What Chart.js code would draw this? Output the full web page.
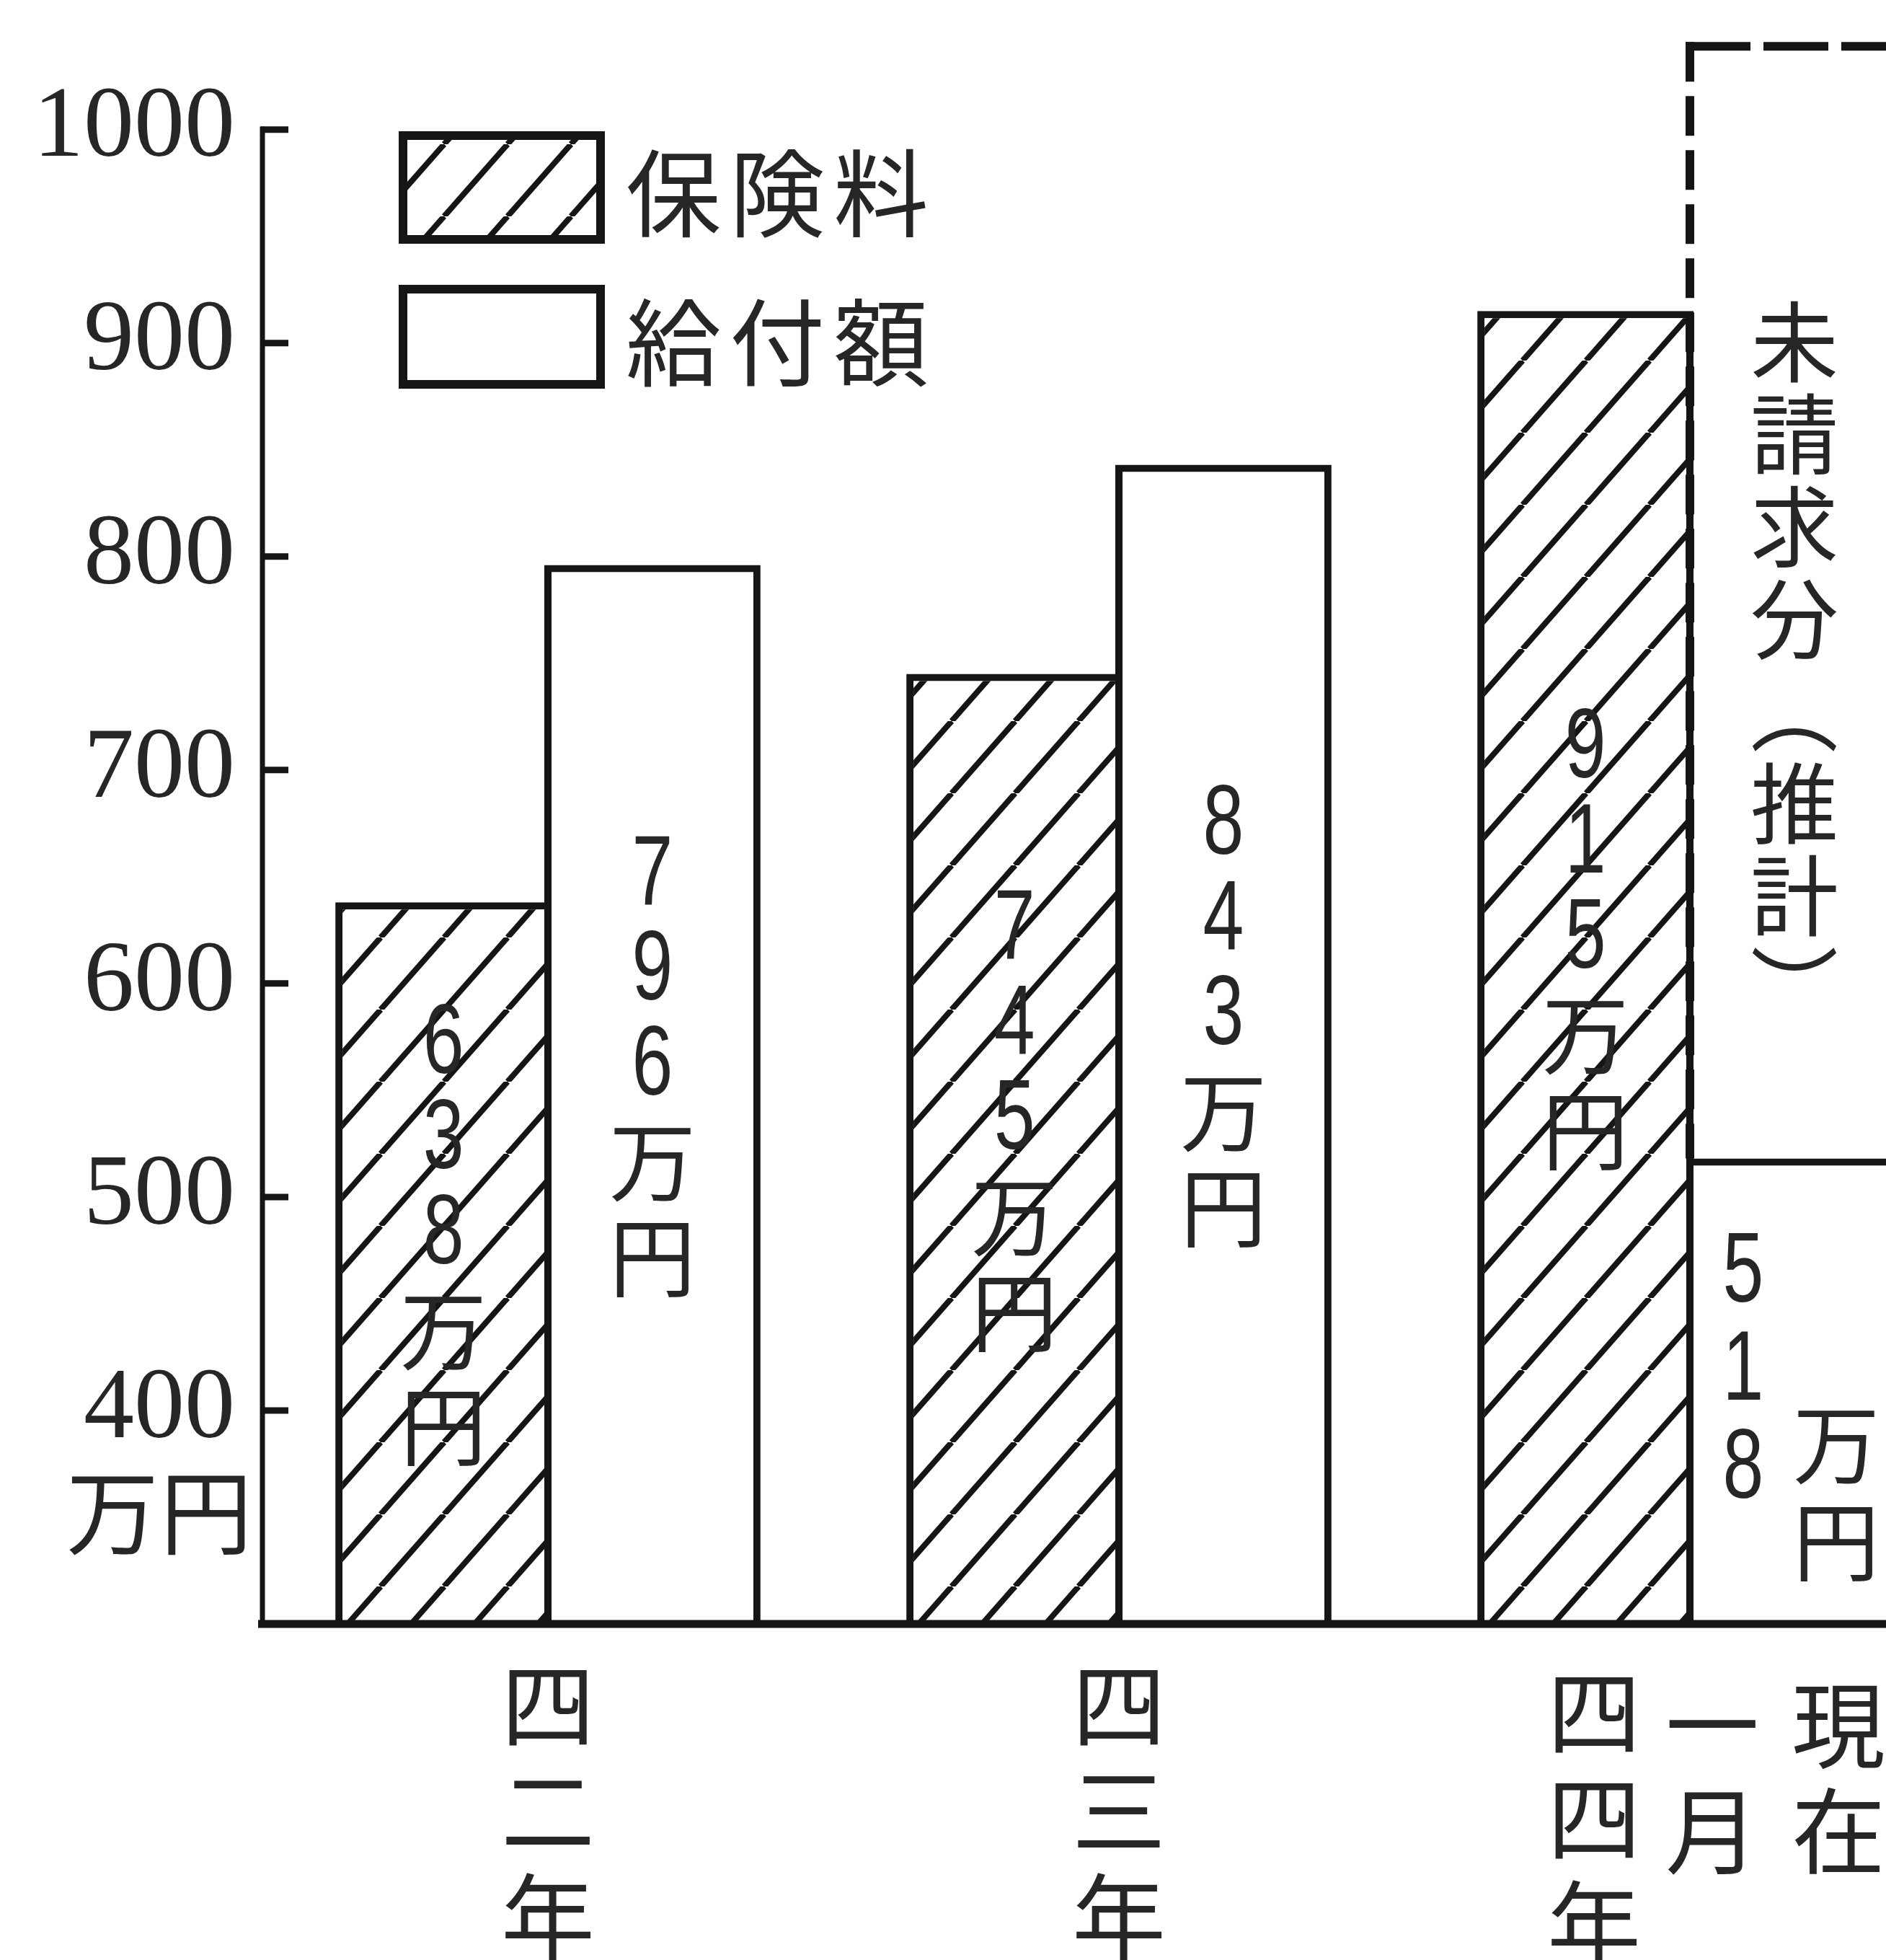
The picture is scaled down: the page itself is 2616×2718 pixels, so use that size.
<!DOCTYPE html>
<html lang="ja">
<head>
<meta charset="utf-8">
<title>保険料と給付額</title>
<script src="https://cdn.jsdelivr.net/npm/chart.js@4/dist/chart.umd.min.js"></script>
<style>
  html, body { margin: 0; padding: 0; background: #fff; overflow: hidden; }
  #wrap { position: relative; width: 2760px; height: 2718px; }
</style>
</head>
<body>
<div id="wrap"><canvas id="chart" width="2760" height="2718"></canvas></div>
<script>
/* data (万円) */
const categories = ['四二年', '四三年', '四四年'];
const xLabelColumns = [['四二年'], ['四三年'], ['四四年', '一月', '現在']];
const premiums = [638, 745, 915];      // 保険料
const benefits = [796, 843, 518];      // 給付額
const unclaimed = [null, null, 523];   // 未請求分（推計）, stacked on 給付額
const yTicks = [400, 500, 600, 700, 800, 900, 1000];
const seriesNames = ['保険料', '給付額', '未請求分'];
const unclaimedLabel = '未請求分︵推計︶';
const unitLabel = '万円';

const INK = '#151515';
const TEXT = '#262626';
const CJK = "'Noto Sans CJK JP'";

function makeHatch() {
  const c = document.createElement('canvas');
  c.width = 88; c.height = 100;
  const g = c.getContext('2d');
  g.fillStyle = '#fff';
  g.fillRect(0, 0, 88, 100);
  g.strokeStyle = INK;
  g.lineWidth = 8;
  [-88, 0, 88].forEach(dx => {
    g.beginPath();
    g.moveTo(dx, 100);
    g.lineTo(dx + 88, 0);
    g.stroke();
  });
  return g.createPattern(c, 'repeat');
}
const hatch = makeHatch();

function line(ctx, x1, y1, x2, y2) {
  ctx.beginPath();
  ctx.moveTo(x1, y1);
  ctx.lineTo(x2, y2);
  ctx.stroke();
}

// one glyph; latin digits are squeezed a little like the print
function drawChar(ctx, ch, x, y) {
  ctx.save();
  ctx.translate(x, y);
  if (/[0-9]/.test(ch)) {
    ctx.font = "138px 'Liberation Sans'";
    ctx.scale(0.74, 1);
  }
  ctx.fillText(ch, 0, 0);
  ctx.restore();
}

function drawColumn(ctx, chars, x, yStart, pitch) {
  chars.forEach((ch, i) => drawChar(ctx, ch, x, yStart + i * pitch));
}

function drawAxes(ctx, chart) {
  const { left, bottom } = chart.chartArea;
  const ys = chart.scales.y;
  const top = ys.getPixelForValue(yTicks[yTicks.length - 1]);
  ctx.strokeStyle = INK;
  ctx.lineWidth = 7;
  line(ctx, left, top - 4, left, bottom);
  ctx.lineWidth = 9;
  yTicks.forEach(v => {
    const y = ys.getPixelForValue(v);
    line(ctx, left - 3, y, left + 36, y);
  });
  ctx.lineWidth = 11;
  line(ctx, left - 6, bottom, chart.width, bottom);

  // unit under the lowest tick label
  ctx.fillStyle = TEXT;
  ctx.font = `128px ${CJK}`;
  const uy = ys.getPixelForValue(yTicks[0]) + 141;
  unitLabel.split('').forEach((ch, i) => drawChar(ctx, ch, left - 208 + i * 130, uy));
}

function barBox(chart, bar) {
  const { x, y, base, width } = bar.getProps(['x', 'y', 'base', 'width'], true);
  // stacked bars start at 0, far below the visible axis
  return { x, y, width, base: Math.min(base, chart.chartArea.bottom) };
}

function drawUnclaimed(ctx, chart) {
  const bar = chart.getDatasetMeta(2).data[2];
  if (!bar) return;
  const { x, y, base, width } = barBox(chart, bar);
  const left = x - width / 2 + 5;
  const top = y + 6;
  ctx.save();
  ctx.strokeStyle = INK;
  ctx.lineWidth = 12;
  ctx.setLineDash([55, 20]);
  line(ctx, left, top - 6, left, base);
  ctx.setLineDash([90, 18]);
  line(ctx, left - 6, top, chart.width, top);
  ctx.restore();

  ctx.fillStyle = TEXT;
  ctx.font = `122px ${CJK}`;
  drawColumn(ctx, unclaimedLabel.split(''), x, y + 415, 128);
}

function drawBarLabels(ctx, chart) {
  const pitch = 132;
  ctx.fillStyle = TEXT;
  [0, 1].forEach(di => {
    const values = chart.data.datasets[di].data;
    chart.getDatasetMeta(di).data.forEach((bar, i) => {
      const { x, y, base } = barBox(chart, bar);
      const digits = String(values[i]).split('');
      const unit = unitLabel.split('');
      const mid = (y + base) / 2;
      const n = digits.length + unit.length;
      ctx.font = `120px ${CJK}`;
      if (base - y > n * pitch + 40) {
        const start = mid - 38 - (n - 1) * pitch / 2;
        drawColumn(ctx, digits.concat(unit), x, start, pitch);
      } else {
        // short bar: digits and unit side by side
        drawColumn(ctx, digits, x - 71, mid - 30 - pitch, 136);
        drawColumn(ctx, unit, x + 58, mid + 140 - pitch / 2, 134);
      }
    });
  });
}

function drawLegend(ctx, chart) {
  const x0 = chart.chartArea.left + 189;
  const boxes = [{ y: 182, h: 156, fill: hatch }, { y: 395, h: 144, fill: '#fff' }];
  boxes.forEach((b, i) => {
    ctx.fillStyle = b.fill;
    ctx.fillRect(x0, b.y, 286, b.h);
    ctx.strokeStyle = INK;
    ctx.lineWidth = 12;
    ctx.strokeRect(x0 + 6, b.y + 6, 274, b.h - 12);
    ctx.fillStyle = TEXT;
    ctx.font = `132px ${CJK}`;
    seriesNames[i].split('').forEach((ch, k) => drawChar(ctx, ch, x0 + 381 + k * 144, b.y + b.h / 2 + 8));
  });
}

function drawXLabels(ctx, chart) {
  const xs = chart.scales.x;
  const base = chart.chartArea.bottom;
  ctx.fillStyle = TEXT;
  ctx.font = `130px ${CJK}`;
  xLabelColumns.forEach((cols, i) => {
    const cx = xs.getPixelForValue(i);
    const offsets = cols.length === 1 ? [0] : [-133, 31, 206];
    const starts = cols.length === 1 ? [112] : [122, 140, 140];
    cols.forEach((col, j) => drawColumn(ctx, col.split(''), cx + offsets[j], base + starts[j], 147));
  });
}

const overlay = {
  id: 'overlay',
  afterDatasetsDraw(chart) {
    const ctx = chart.ctx;
    ctx.save();
    ctx.textAlign = 'center';
    ctx.textBaseline = 'middle';
    drawUnclaimed(ctx, chart);
    drawAxes(ctx, chart);
    drawBarLabels(ctx, chart);
    drawLegend(ctx, chart);
    drawXLabels(ctx, chart);
    ctx.restore();
  },
};

new Chart(document.getElementById('chart'), {
  type: 'bar',
  data: {
    labels: categories,
    datasets: [
      { label: seriesNames[0], data: premiums, stack: 'p', backgroundColor: hatch, borderColor: INK, borderWidth: 10 },
      { label: seriesNames[1], data: benefits, stack: 'b', backgroundColor: '#fff', borderColor: INK, borderWidth: 10 },
      { label: seriesNames[2], data: unclaimed, stack: 'b', backgroundColor: 'rgba(0,0,0,0)', borderWidth: 0 },
    ],
  },
  options: {
    responsive: false,
    animation: false,
    devicePixelRatio: 1,
    layout: { padding: { left: 0, right: 20, top: 2, bottom: 466 } },
    datasets: { bar: { categoryPercentage: 0.732, barPercentage: 1.0345, borderSkipped: 'start' } },
    plugins: { legend: { display: false }, tooltip: { enabled: false } },
    scales: {
      x: { stacked: true, display: false },
      y: {
        stacked: true,
        min: 300,
        max: 1060,
        afterBuildTicks: axis => { axis.ticks = yTicks.map(value => ({ value })); },
        afterFit: axis => {
          axis.width = 364;
          axis.paddingTop = 0;
          axis.paddingBottom = 0;
        },
        grid: { display: false, drawTicks: false },
        border: { display: false },
        ticks: {
          padding: 38,
          color: TEXT,
          font: { family: "'Liberation Serif'", size: 140 },
          callback: v => String(v),
        },
      },
    },
  },
  plugins: [overlay],
});
</script>
</body>
</html>
